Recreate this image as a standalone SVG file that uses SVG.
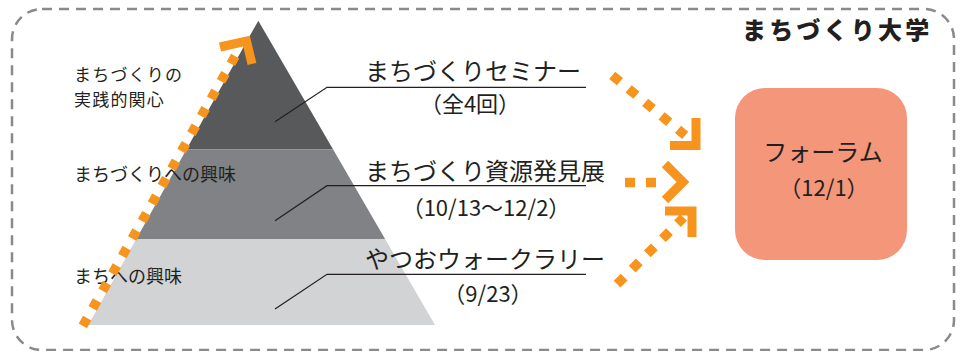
<svg xmlns="http://www.w3.org/2000/svg" width="964" height="351" viewBox="0 0 964 351">
<defs>
<style>
text{font-family:"Noto Sans CJK JP","Noto Sans",sans-serif;fill:#231f20}
.big{font-size:24px}
.sub{font-size:22px}
.lab{font-size:18px}
.lab2{font-size:17px;letter-spacing:1.2px}
.ttl{font-size:24px;font-weight:900;letter-spacing:3.2px}
.lead{fill:none;stroke:#231f20;stroke-width:1.2}
.dots{fill:none;stroke:#f7941d;stroke-width:9.5}
.head{fill:none;stroke:#f7941d;stroke-width:9;stroke-linejoin:miter;stroke-linecap:butt}
</style>
</defs>
<rect id="frame" x="12" y="9" width="942" height="341" rx="30" ry="30" fill="none" stroke="#8a8a8a" stroke-width="2.5" stroke-dasharray="10 7"/>
<g id="title"><text class="ttl" x="742" y="39">まちづくり大学</text></g>
<g id="pyramid">
<polygon id="tier-top" points="258.3,20.7 333,149.3 186.5,149.3" fill="#58595b"/>
<polygon id="tier-mid" points="186.5,149.3 333,149.3 385.1,239 136.3,239" fill="#808285"/>
<polygon id="tier-bot" points="136.3,239 385.1,239 435,325 88.3,325" fill="#d1d3d4"/>
</g>
<g id="left-labels">
<text class="lab2" x="74" y="81">まちづくりの</text>
<text class="lab2" x="74" y="106">実践的関心</text>
<text class="lab" x="74" y="181">まちづくりへの興味</text>
<text class="lab" x="74" y="283">まちへの興味</text>
</g>
<g id="seminar">
<text class="big" x="365" y="80">まちづくりセミナー</text>
<text class="sub" x="470" y="112" text-anchor="middle">（全4回）</text>
</g>
<g id="exhibition">
<text class="big" x="365" y="180">まちづくり資源発見展</text>
<text class="sub" x="486" y="216" text-anchor="middle">（10/13〜12/2）</text>
</g>
<g id="walkrally">
<text class="big" x="365" y="268">やつおウォークラリー</text>
<text class="sub" x="488" y="302" text-anchor="middle">（9/23）</text>
</g>
<g id="forum">
<rect x="735" y="88" width="172" height="172" rx="30" ry="30" fill="#f49679"/>
<text class="big" x="823" y="161" text-anchor="middle">フォーラム</text>
<text class="sub" x="824" y="196" text-anchor="middle">（12/1）</text>
</g>
<g id="connectors">
<polyline class="lead" points="275,121.7 327,87.3 586,87.3"/>
<polyline class="lead" points="275,220.7 327,185.7 586,185.7"/>
<polyline class="lead" points="275,309 327,274.3 586,274.3"/>
<line class="dots" x1="82.8" y1="325.9" x2="235.2" y2="56.1" stroke-dasharray="9 11.07"/>
<polyline class="head" points="220,47 246.5,41 252,64"/>
<line class="dots" x1="612.2" y1="75.3" x2="685.2" y2="135.3" stroke-dasharray="10 11.3"/>
<polyline class="head" points="670,145.5 696,145.5 696,118"/>
<line class="dots" x1="625" y1="182.5" x2="656" y2="182.5" stroke-width="10" stroke="#f7941d" stroke-dasharray="10 11"/>
<polyline class="head" points="665,164 683,182 665,200"/>
<line class="dots" x1="617.1" y1="284.2" x2="683.6" y2="217.5" stroke-dasharray="10 11.4"/>
<polyline class="head" points="665,211 692,211 692,237"/>
</g>
</svg>
